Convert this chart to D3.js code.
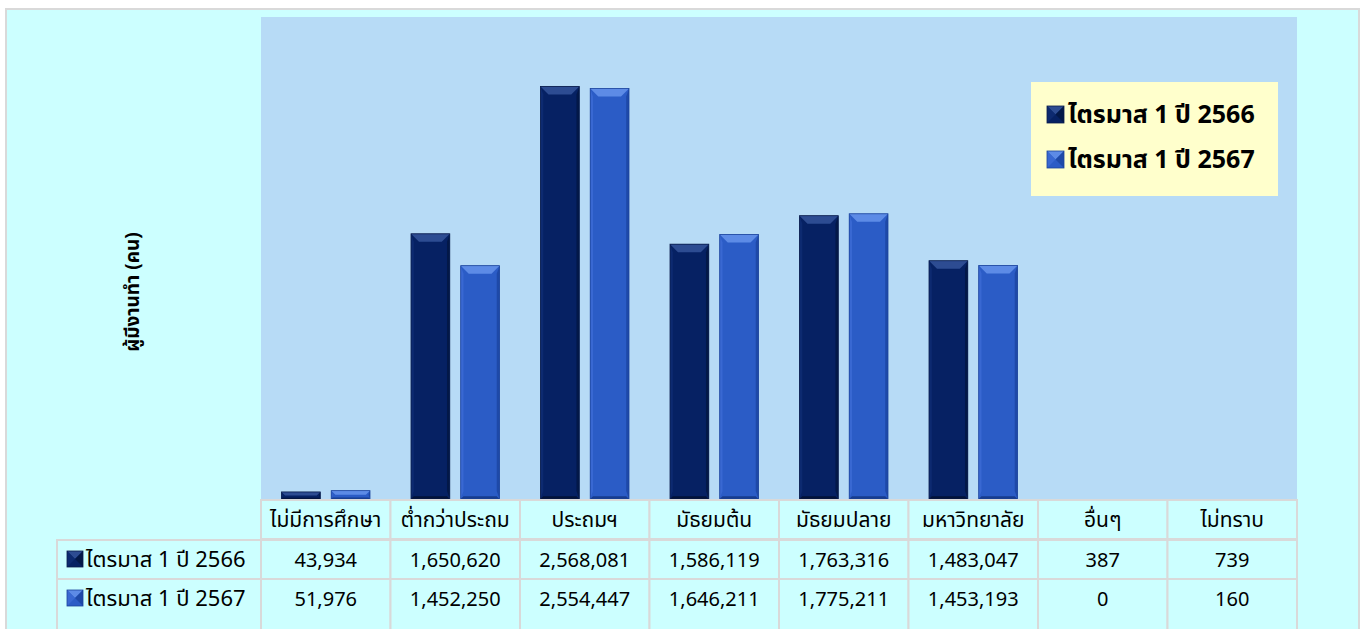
<!DOCTYPE html>
<html>
<head>
<meta charset="utf-8">
<script src="https://cdn.jsdelivr.net/npm/d3@7"></script>
<style>
	body { margin: 0; background: #ffffff; }
	svg text { font-family: Tahoma, "Noto Sans Thai", "Noto Sans", "DejaVu Sans", sans-serif; fill: #000; }
</style>
</head>
<body>
<svg id="chart" width="1364" height="629"></svg>
<script>
// data
var categories = ["ไม่มีการศึกษา", "ต่ำกว่าประถม", "ประถมฯ", "มัธยมต้น", "มัธยมปลาย", "มหาวิทยาลัย", "อื่นๆ", "ไม่ทราบ"];
var seriesNames = ["ไตรมาส 1 ปี 2566", "ไตรมาส 1 ปี 2567"];
var values2566 = [43934, 1650620, 2568081, 1586119, 1763316, 1483047, 387, 739];
var values2567 = [51976, 1452250, 2554447, 1646211, 1775211, 1453193, 0, 160];
var yTitle = "ผู้มีงานทำ (คน)";

// colours for each series: body, top bevel, side, bottom, stroke
var palette = [
	{body: "#062163", top: "#2d4c92", left: "#0d2a70", right: "#031848", bottom: "#021238", stroke: "#0a1d4c"},
	{body: "#2b5cc6", top: "#5d8be6", left: "#3968d2", right: "#1e49a8", bottom: "#173c8e", stroke: "#1c449c"}
];

var seriesValues = [values2566, values2567];
var fmt = d3.format(",");

var svg = d3.select("#chart");

// chart area + plot area
svg.append("rect")
	.attr("x", 6).attr("y", 9)
	.attr("width", 1353).attr("height", 640)
	.attr("fill", "#ccffff")
	.attr("stroke", "#d9d9d9").attr("stroke-width", 2);

var plot = {left: 261, right: 1297, top: 17, bottom: 500};

svg.append("rect")
	.attr("x", plot.left).attr("y", plot.top)
	.attr("width", plot.right - plot.left).attr("height", plot.bottom - plot.top)
	.attr("fill", "#b7dbf6");

var x0 = d3.scaleBand()
	.domain(categories)
	.range([plot.left, plot.right])
	.padding(0);

var x1 = d3.scaleBand()
	.domain(d3.range(seriesNames.length))
	.range([20.5, x0.bandwidth() - 20.5])
	.paddingInner(0.22)
	.paddingOuter(0);

var y = d3.scaleLinear()
	.domain([0, 3000000])
	.range([499, plot.top]);

// bars with a bevel
function bevelBar(g, x, yTop, w, h, c) {
	var b = Math.min(8, h / 2, w / 2);
	var xr = x + w, yb = yTop + h;
	g.append("rect").attr("x", x).attr("y", yTop).attr("width", w).attr("height", h)
		.attr("fill", c.body);
	g.append("polygon").attr("fill", c.top)
		.attr("points", [[x, yTop], [xr, yTop], [xr - b, yTop + b], [x + b, yTop + b]].join(" "));
	g.append("polygon").attr("fill", c.left)
		.attr("points", [[x, yTop], [x + b * 0.35, yTop + b], [x + b * 0.35, yb - b], [x, yb]].join(" "));
	g.append("polygon").attr("fill", c.right)
		.attr("points", [[xr, yTop], [xr - b * 0.35, yTop + b], [xr - b * 0.35, yb - b], [xr, yb]].join(" "));
	g.append("polygon").attr("fill", c.bottom)
		.attr("points", [[x, yb], [x + b * 0.35, yb - b * 0.35], [xr - b * 0.35, yb - b * 0.35], [xr, yb]].join(" "));
	g.append("rect").attr("x", x).attr("y", yTop).attr("width", w).attr("height", h)
		.attr("fill", "none").attr("stroke", c.stroke).attr("stroke-width", 0.8);
}

var barsG = svg.append("g").attr("class", "bars");
categories.forEach(function(cat, i) {
	seriesValues.forEach(function(vals, s) {
		var v = vals[i];
		if (v <= 0) return;
		var yt = y(v);
		var h = y(0) - yt;
		if (h < 0.5) return;
		bevelBar(barsG, x0(cat) + x1(s), yt, x1.bandwidth(), h, palette[s]);
	});
});

// legend marker (pyramid style)
function marker(g, x, yy, size, c) {
	var m = size / 2;
	g.append("rect").attr("x", x).attr("y", yy).attr("width", size).attr("height", size).attr("fill", c.body);
	g.append("polygon").attr("fill", c.top)
		.attr("points", [[x, yy], [x + size, yy], [x + m, yy + m]].join(" "));
	g.append("polygon").attr("fill", c.left)
		.attr("points", [[x, yy], [x + m, yy + m], [x, yy + size]].join(" "));
	g.append("polygon").attr("fill", c.right)
		.attr("points", [[x + size, yy], [x + m, yy + m], [x + size, yy + size]].join(" "));
	g.append("rect").attr("x", x).attr("y", yy).attr("width", size).attr("height", size)
		.attr("fill", "none").attr("stroke", c.stroke).attr("stroke-width", 0.8);
}

// legend box
var legend = svg.append("g").attr("class", "legend");
legend.append("rect")
	.attr("x", 1031).attr("y", 82)
	.attr("width", 247).attr("height", 114)
	.attr("fill", "#ffffcc");
seriesNames.forEach(function(name, s) {
	var ly = 106 + s * 45;
	marker(legend, 1047, ly, 17, palette[s]);
	legend.append("text")
		.attr("x", 1068).attr("y", ly + 17)
		.attr("font-size", 25).attr("font-weight", "bold")
		.text(name);
});

// y axis title
svg.append("text")
	.attr("transform", "translate(139,292) rotate(-90)")
	.attr("text-anchor", "middle")
	.attr("font-size", 19).attr("font-weight", "bold")
	.text(yTitle);

// data table under the plot (last row runs off the bottom edge)
var rowTop = [500, 540, 579];
var rowH = 39;
var rowBoxH = [39, 39, 70];
var table = svg.append("g").attr("class", "table");
var border = "#d9d9d9";

categories.forEach(function(cat) {
	rowTop.forEach(function(t, r) {
		table.append("rect")
			.attr("x", x0(cat)).attr("y", t)
			.attr("width", x0.bandwidth()).attr("height", rowBoxH[r])
			.attr("fill", "#ccffff").attr("stroke", border).attr("stroke-width", 2);
	});
	table.append("text")
		.attr("x", x0(cat) + x0.bandwidth() / 2).attr("y", rowTop[0] + rowH / 2)
		.attr("dy", "0.35em").attr("text-anchor", "middle")
		.attr("font-size", 21)
		.text(cat);
});

seriesNames.forEach(function(name, s) {
	var t = rowTop[s + 1];
	table.append("rect")
		.attr("x", 57).attr("y", t)
		.attr("width", plot.left - 57).attr("height", rowBoxH[s + 1])
		.attr("fill", "#ccffff").attr("stroke", border).attr("stroke-width", 2);
	marker(table, 67, t + 11, 16, palette[s]);
	table.append("text")
		.attr("x", 86).attr("y", t + rowH / 2)
		.attr("dy", "0.35em")
		.attr("font-size", 22)
		.text(name);
	categories.forEach(function(cat, i) {
		table.append("text")
			.attr("x", x0(cat) + x0.bandwidth() / 2).attr("y", t + rowH / 2)
			.attr("dy", "0.35em").attr("text-anchor", "middle")
			.attr("font-size", 20)
			.text(fmt(seriesValues[s][i]));
	});
});
</script>
</body>
</html>
